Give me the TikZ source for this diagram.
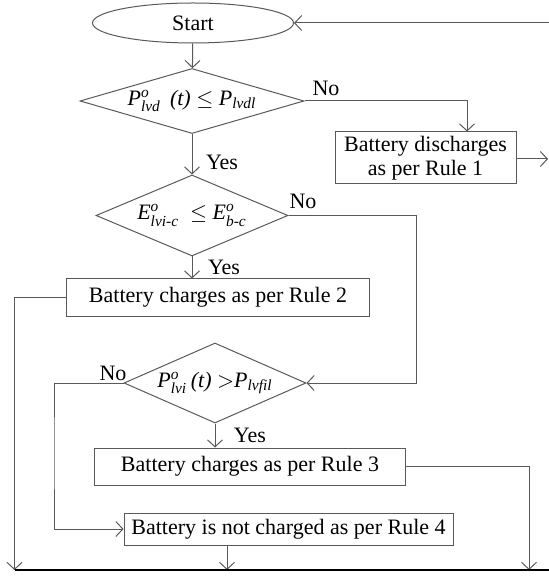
\documentclass[tikz,border=0pt]{standalone}
\usepackage{fontspec}
\setmainfont{Liberation Serif}
\usepackage{amsmath}
\usetikzlibrary{shapes.geometric}
\usetikzlibrary{arrows.meta}
\definecolor{lnclr}{gray}{0.35}
\newcommand{\itx}[1]{\textit{#1}}

\begin{document}
\begin{tikzpicture}[x=0.5pt, y=-0.5pt,
            -{Straight Barb[length=3.5pt,width=7.5pt]},
            line width=0.5pt,
            font=\fontsize{11}{12}\selectfont,
            box/.style = {draw=lnclr,rectangle,inner sep=0pt,align=center},
            term/.style = {draw=lnclr,ellipse,inner sep=0pt},
            test/.style = {draw=lnclr,diamond,inner sep=0pt},
            conn/.style = {color=lnclr},
            lbl/.style = {inner sep=0pt}]
            \useasboundingbox (0,0) rectangle (549,576);
            % shapes
            \node[term,minimum width=100.5pt,minimum height=20pt] (start) at (193,23) {Start};
            \node[test,shape aspect=3.45,minimum width=112pt,minimum height=32.5pt] (dlvd) at (192,101)
                {$\itx{P}^{\itx{o}}_{\itx{lvd}}$\,\ \itx{(t)} $\leq$ $\itx{P}_{\itx{lvdl}}$};
            \node[box,minimum width=90.5pt,minimum height=26pt] (rule1) at (425.5,158)
                {Battery discharges\\ as per Rule 1};
            \node[test,shape aspect=2.37,minimum width=96pt,minimum height=40.5pt] (dlvi) at (192,215.5)
                {$\itx{E}^{\itx{o}}_{\itx{lvi-c}}$\ \ $\leq$\ $\itx{E}^{\itx{o}}_{\itx{b-c}}$};
            \node[box,minimum width=151.75pt,minimum height=18.5pt] (rule2) at (218,297.5)
                {Battery charges as per Rule 2};
            \node[test,shape aspect=2.27,minimum width=91pt,minimum height=40pt] (dfil) at (215,383)
                {$\itx{P}^{\itx{o}}_{\itx{lvi}}$\,\itx{(t)} $>$$\itx{P}_{\itx{lvfil}}$};
            \node[box,minimum width=155.5pt,minimum height=18.5pt] (rule3) at (250,466.5)
                {Battery charges as per Rule 3};
            \node[box,minimum width=164.5pt,minimum height=16pt] (rule4) at (288.5,529)
                {Battery is not charged as per Rule 4};
            % labels
            \node[lbl] (no1) at (326,88) {No};
            \node[lbl] (yes1) at (222,162) {Yes};
            \node[lbl] (no2) at (303,201) {No};
            \node[lbl] (yes2) at (224,267) {Yes};
            \node[lbl] (no3) at (113,373) {No};
            \node[lbl] (yes3) at (250,435) {Yes};
            % free ends
            \coordinate (back) at (549,23);
            \coordinate (out1) at (548,159);
            \coordinate (r2) at (416,300);
            \coordinate (l3) at (54,450);
            \coordinate (bl) at (14.5,570);
            \coordinate (bm) at (227,570);
            \coordinate (br) at (529,570);
            \coordinate (be) at (549,570);
            % connectors
            \path[conn]
                (back) edge (start.east)
                (start) edge (dlvd)
                (dlvd) edge (dlvi)
                (rule1.east |- out1) edge (out1)
                (dlvi.south) edge (dlvi.south |- rule2.north)
                (dfil.south) edge (dfil.south |- rule3.north)
                (bm |- rule4.south) edge (bm);
            \draw[conn] (dlvd.east) -| ([xshift=20.75pt]rule1.north);
            \draw[conn] (dlvi.east) -| (r2) |- (dfil.east);
            \draw[conn] (dfil.west) -| (l3) |- (rule4.west);
            \draw[conn] (rule2.west) -| (bl);
            \draw[conn] (rule3.east) -| (br);
            \draw[-,black,line width=0.7pt] (bl) -- (be);
\end{tikzpicture}
\end{document}
